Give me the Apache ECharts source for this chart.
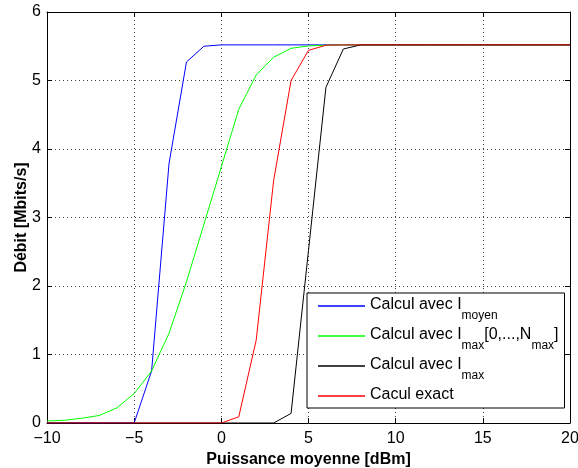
<!DOCTYPE html>
<html>
<head>
<meta charset="utf-8">
<script src="https://cdn.jsdelivr.net/npm/echarts@6/dist/echarts.min.js"></script>
<style>
html,body{margin:0;padding:0;background:#fff;}
#c{width:578px;height:468px;}
</style>
</head>
<body>
<div id="c"></div>
<script>
// Puissance moyenne [dBm]
const puissance = [-10,-9,-8,-7,-6,-5,-4,-3,-2,-1,0,1,2,3,4,5,6,7,8,9,10,11,12,13,14,15,16,17,18,19,20];
// Calcul avec I_moyen
const debitMoyen = [0,0,0,0,0,0,0.76,3.79,5.27,5.50,5.52,5.52,5.52,5.52,5.52,5.52,5.52,5.52,5.52,5.52,5.52,5.52,5.52,5.52,5.52,5.52,5.52,5.52,5.52,5.52,5.52];
// Calcul avec I_max[0,...,N_max]
const debitMaxN = [0.03,0.04,0.07,0.11,0.22,0.43,0.76,1.31,2.06,2.90,3.74,4.58,5.08,5.34,5.47,5.505,5.515,5.52,5.52,5.52,5.52,5.52,5.52,5.52,5.52,5.52,5.52,5.52,5.52,5.52,5.52];
// Calcul avec I_max
const debitMax = [0,0,0,0,0,0,0,0,0,0,0,0,0,0,0.14,2.52,4.90,5.46,5.52,5.52,5.52,5.52,5.52,5.52,5.52,5.52,5.52,5.52,5.52,5.52,5.52];
// Cacul exact
const debitExact = [0,0,0,0,0,0,0,0,0,0,0,0.09,1.21,3.54,5.00,5.44,5.515,5.52,5.52,5.52,5.52,5.52,5.52,5.52,5.52,5.52,5.52,5.52,5.52,5.52,5.52];

const xTicks = [-10,-5,0,5,10,15,20];
const yTicks = [0,1,2,3,4,5,6];

const seriesNames = ['Calcul avec I_moyen','Calcul avec I_max[0,...,N_max]','Calcul avec I_max','Cacul exact'];
const seriesColors = ['#0000ff','#00ff00','#000000','#ff0000'];
const seriesData = [debitMoyen, debitMaxN, debitMax, debitExact];

const legendRich = {
  'Calcul avec I_moyen': '{m|Calcul avec I}{s|moyen}',
  'Calcul avec I_max[0,...,N_max]': '{m|Calcul avec I}{s|max}{m|[0,...,N}{s|max}{m|]}',
  'Calcul avec I_max': '{m|Calcul avec I}{s|max}',
  'Cacul exact': '{m|Cacul exact}'
};

const FONT = '"Liberation Sans", Arial, Helvetica, sans-serif';
const minus = v => String(v).replace('-', '\u2212');

const chart = echarts.init(document.getElementById('c'), null, {renderer:'canvas'});

const gridLine = {show:true, lineStyle:{color:'#444', type:[1,3], width:1}};

chart.setOption({
  animation:false,
  backgroundColor:'#fff',
  textStyle:{fontFamily:FONT},
  grid:{left:47, right:8, top:12, bottom:45, containLabel:false, outerBoundsMode:'none'},
  xAxis:[{
    type:'value', min:xTicks[0], max:xTicks[xTicks.length-1], interval:5,
    axisLine:{show:true, onZero:false, lineStyle:{color:'#000', width:1}},
    axisTick:{show:true, inside:true, length:5, lineStyle:{color:'#000'}},
    axisLabel:{color:'#000', fontSize:16, fontFamily:FONT, margin:8, formatter:minus},
    splitLine:gridLine,
    name:'Puissance moyenne [dBm]', nameLocation:'middle', nameGap:26,
    nameTextStyle:{color:'#000', fontSize:16, fontWeight:'bold', fontFamily:FONT}
  },{
    type:'value', min:xTicks[0], max:xTicks[xTicks.length-1], interval:5, position:'top',
    axisLine:{show:true, onZero:false, lineStyle:{color:'#000', width:1}},
    axisTick:{show:true, inside:true, length:5, lineStyle:{color:'#000'}},
    axisLabel:{show:false}, splitLine:{show:false}
  }],
  yAxis:[{
    type:'value', min:yTicks[0], max:yTicks[yTicks.length-1], interval:1,
    axisLine:{show:true, onZero:false, lineStyle:{color:'#000', width:1}},
    axisTick:{show:true, inside:true, length:5, lineStyle:{color:'#000'}},
    axisLabel:{color:'#000', fontSize:16, fontFamily:FONT, margin:6},
    splitLine:gridLine,
    name:'Débit [Mbits/s]', nameLocation:'middle', nameGap:17, nameMoveOverlap:false,
    nameTextStyle:{color:'#000', fontSize:16, fontWeight:'bold', fontFamily:FONT}
  },{
    type:'value', min:yTicks[0], max:yTicks[yTicks.length-1], interval:1, position:'right',
    axisLine:{show:true, onZero:false, lineStyle:{color:'#000', width:1}},
    axisTick:{show:true, inside:true, length:5, lineStyle:{color:'#000'}},
    axisLabel:{show:false}, splitLine:{show:false}
  }],
  legend:{
    orient:'vertical', left:307, top:293,
    data:seriesNames,
    backgroundColor:'#fff', borderColor:'#000', borderWidth:1,
    padding:[4,6,5,11], itemGap:5,
    itemWidth:47, itemHeight:1.5, icon:'rect',
    formatter: n => legendRich[n],
    textStyle:{
      color:'#000', fontFamily:FONT,
      rich:{
        m:{fontSize:16, lineHeight:18, verticalAlign:'top', color:'#000', fontFamily:FONT},
        s:{fontSize:12, lineHeight:12, verticalAlign:'top', padding:[13,0,0,0], color:'#000', fontFamily:FONT}
      }
    }
  },
  series: seriesNames.map((name,i)=>({
    name:name, type:'line', xAxisIndex:0, yAxisIndex:0,
    data: puissance.map((x,k)=>[x, seriesData[i][k]]),
    showSymbol:false, symbol:'none',
    lineStyle:{color:seriesColors[i], width:1},
    itemStyle:{color:seriesColors[i]},
    z: 2+i
  }))
});
</script>
</body>
</html>
